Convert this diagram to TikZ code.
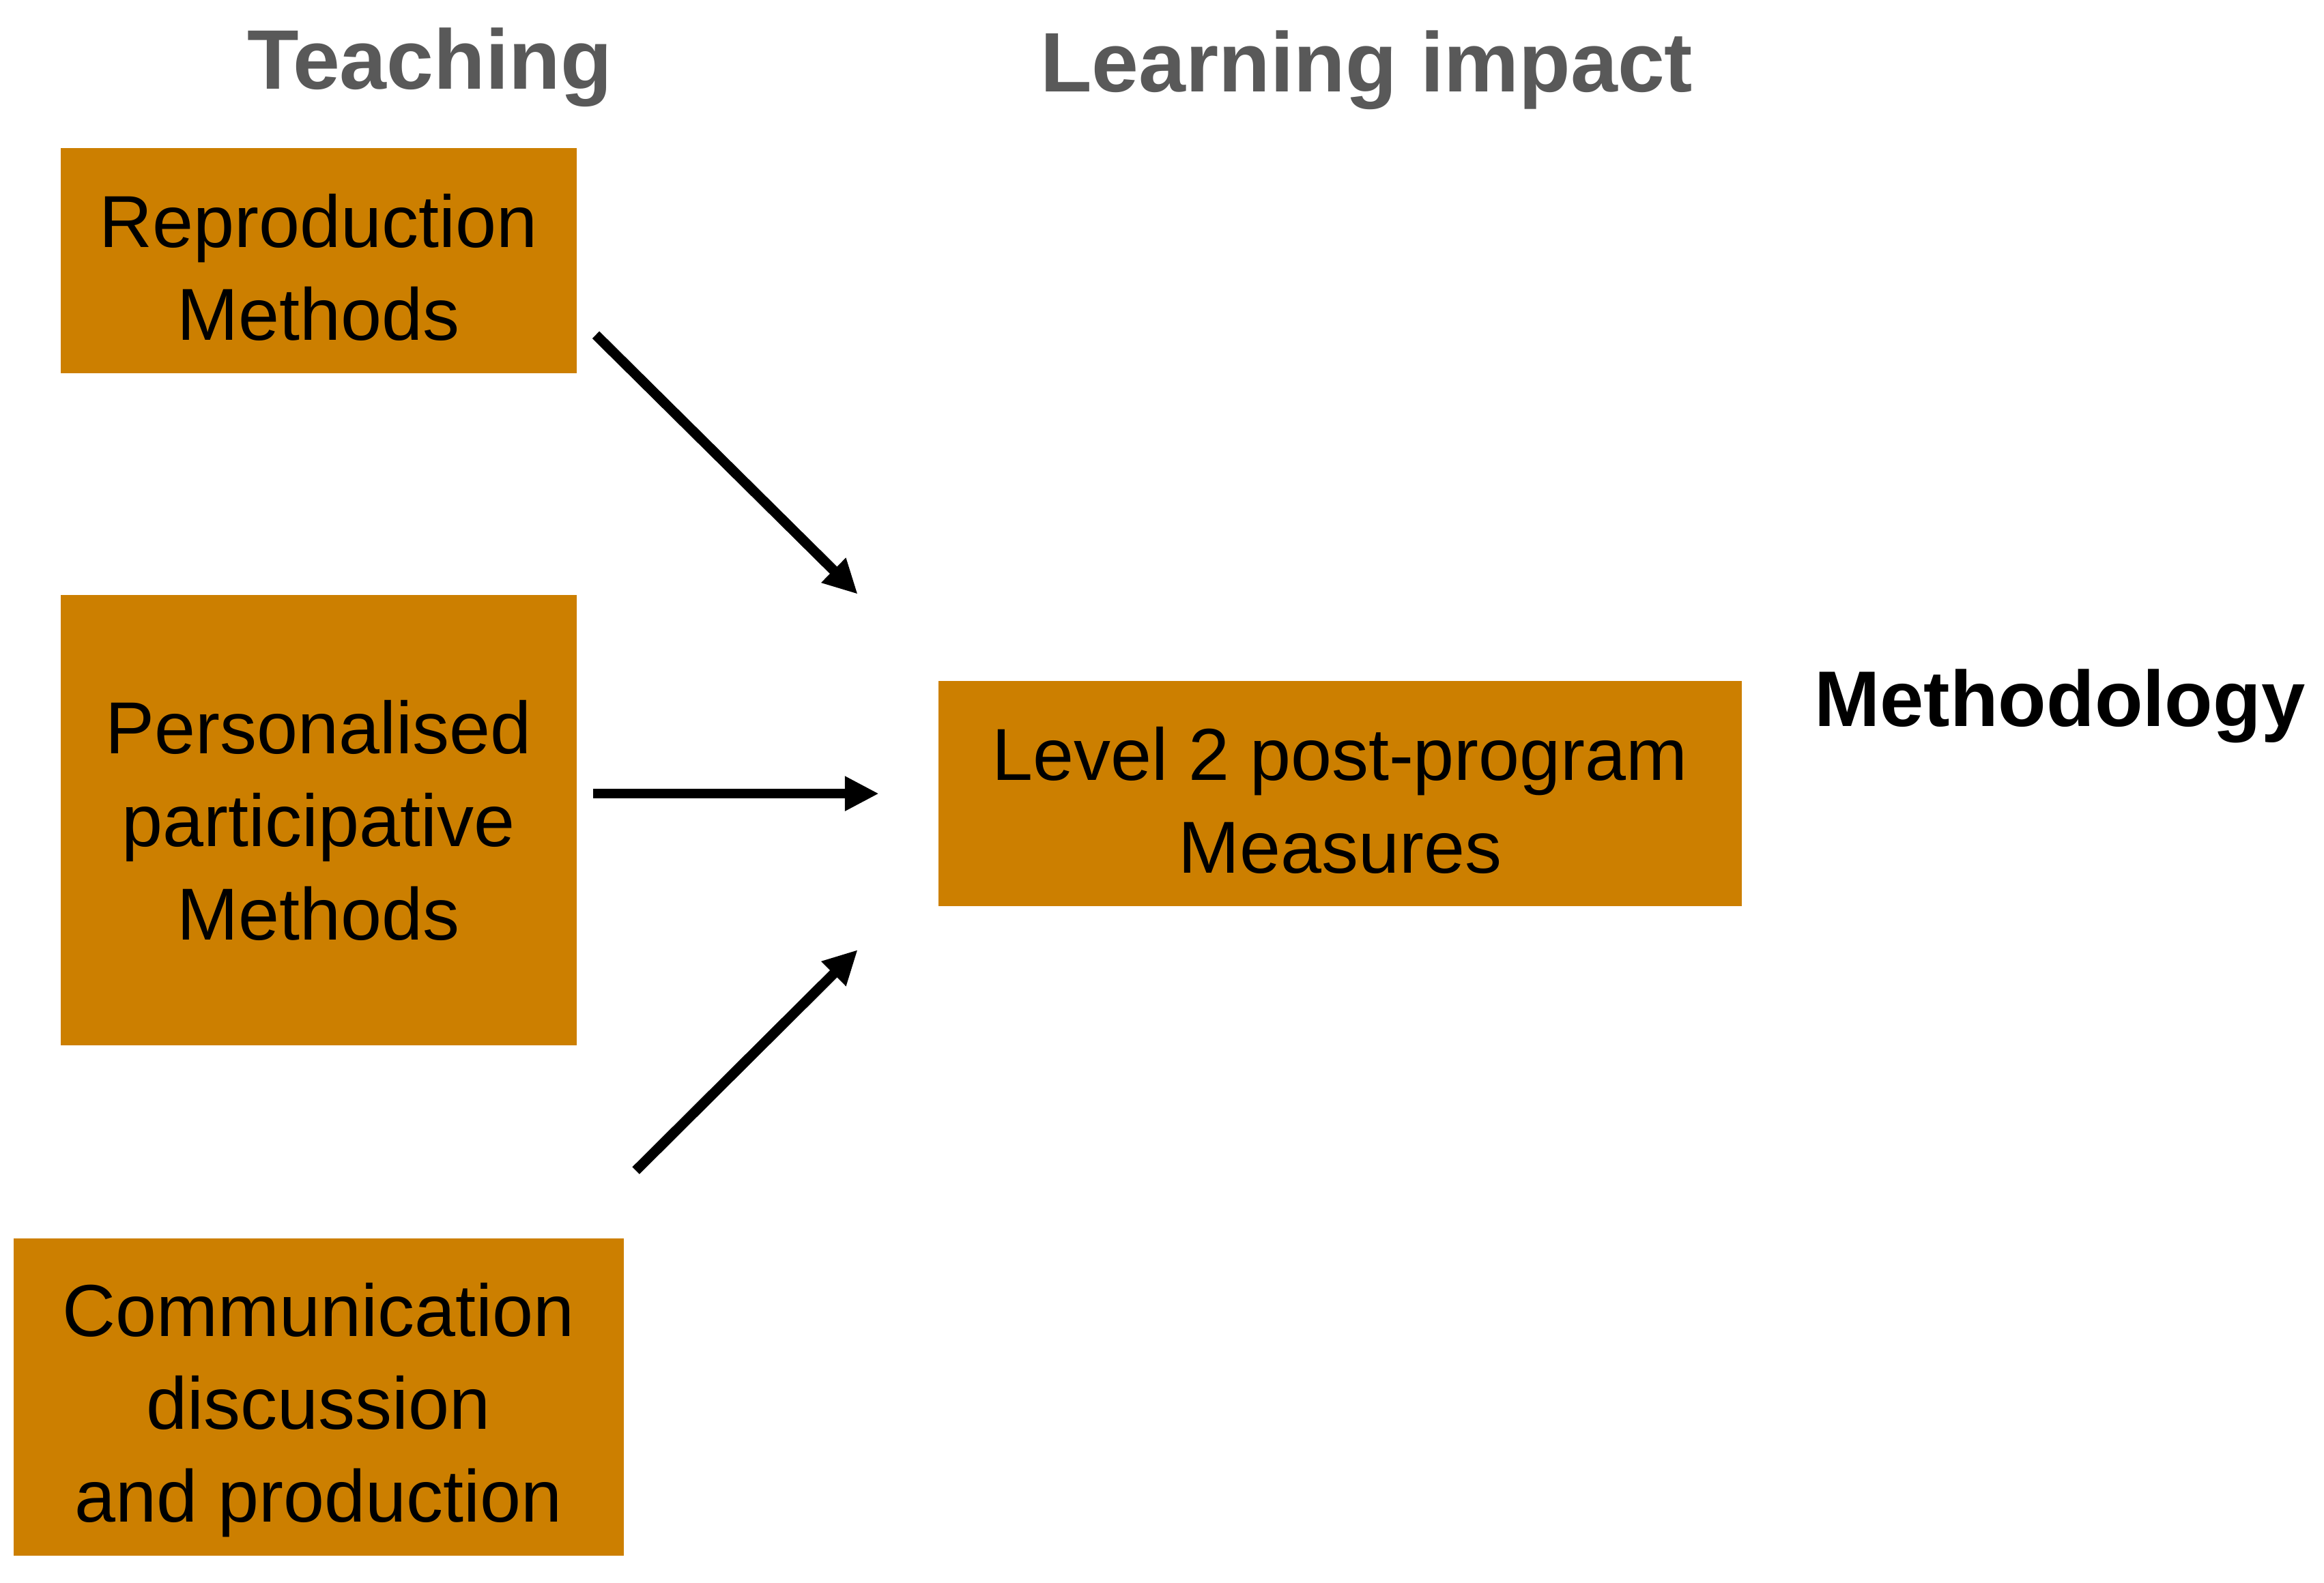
\documentclass[tikz,border=0pt]{standalone}
\usepackage{fontspec}
\setmainfont{Liberation Sans}
\usetikzlibrary{arrows.meta}
\definecolor{boxorange}{RGB}{204,127,0}
\definecolor{headgray}{RGB}{89,89,89}
\tikzset{
  box/.style={fill=boxorange, draw=none, align=center, inner sep=0pt,
    font=\fontsize{49.7pt}{62.8pt}\selectfont, text=black},
  heading/.style={anchor=base, text=headgray, inner sep=0pt,
    font=\fontsize{57pt}{68pt}\selectfont\bfseries},
  conn/.style={line width=6.8pt, -{Triangle[length=23pt,width=22pt]}}
}
\begin{document}
\begin{tikzpicture}[x=1pt,y=-1pt]
\useasboundingbox (0,0) rectangle (1568,1068);
% headings
\node[heading] (hteach) at (290,60) {Teaching};
\node[heading] (hlearn) at (922,62) {Learning impact};
\node[anchor=base west, inner sep=0pt, text=black,
  font=\fontsize{53.2pt}{64pt}\selectfont\bfseries] (hmeth) at (1224,490) {Methodology};
% boxes
\node[box, minimum width=348pt, minimum height=152pt] (b1) at (215,176) {\rule{0pt}{45pt}Reproduction\\Methods};
\node[box, minimum width=348pt, minimum height=304pt] (b2) at (215,553.6) {Personalised\\participative\\Methods};
\node[box, minimum width=412pt, minimum height=214pt] (b3) at (215,942.7) {\rule{0pt}{54pt}Communication\\discussion\\and production};
\node[box, minimum width=542pt, minimum height=152pt] (b4) at (904,535.5) {\rule{0pt}{45pt}Level 2 post-program\\Measures};
% connector ends
\coordinate (a1s) at (402,226);
\coordinate (a1e) at (578.7,401);
\coordinate (a2s) at (400,535.6);
\coordinate (a2e) at (593,535.6);
\coordinate (a3s) at (429,790);
\coordinate (a3e) at (578.7,641);
\draw[conn] (a1s) -- (a1e);
\draw[conn] (a2s) -- (a2e);
\draw[conn] (a3s) -- (a3e);
\end{tikzpicture}
\end{document}
